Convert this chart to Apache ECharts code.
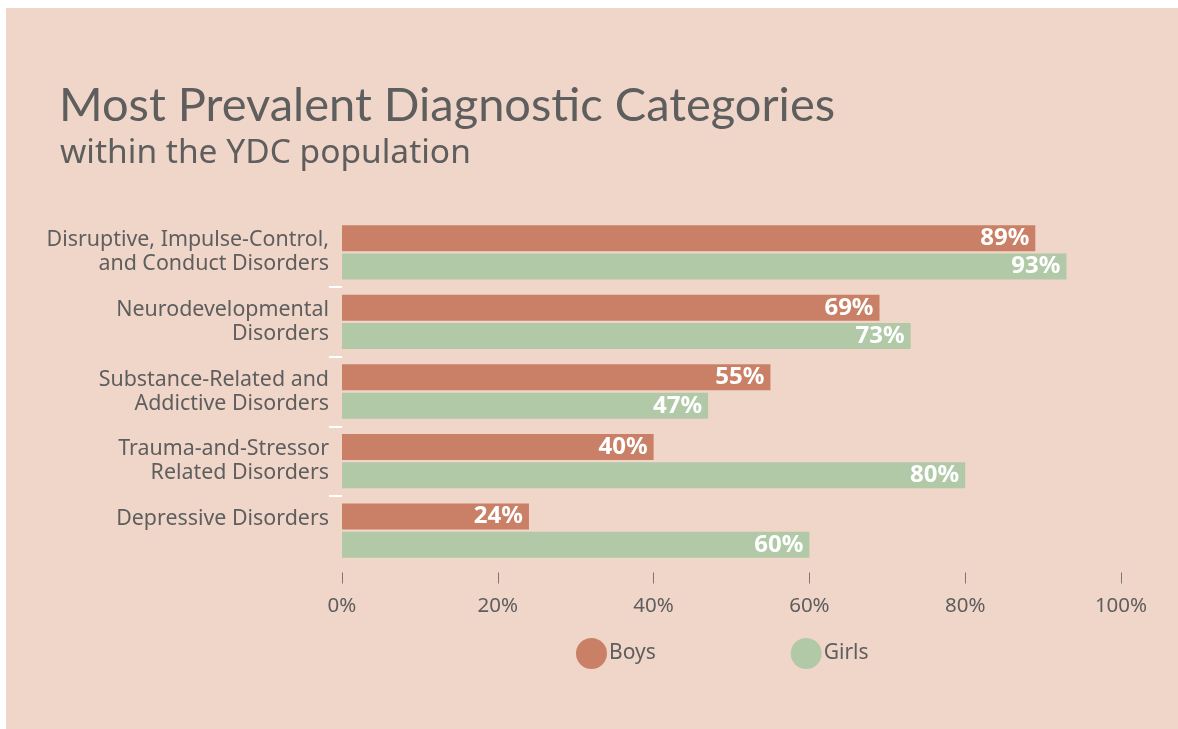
<!DOCTYPE html>
<html>
<head>
<meta charset="utf-8">
<script src="https://cdn.jsdelivr.net/npm/echarts@6/dist/echarts.min.js"></script>
<style>
html,body{margin:0;padding:0;background:#ffffff;}
#chart{position:absolute;left:6px;top:8px;width:1172px;height:721px;background:#F0D5C9;}
</style>
</head>
<body>
<div id="chart"></div>
<script>
const categories = [
  "Disruptive, Impulse-Control,\nand Conduct Disorders",
  "Neurodevelopmental\nDisorders",
  "Substance-Related and\nAddictive Disorders",
  "Trauma-and-Stressor\nRelated Disorders",
  "Depressive Disorders"
];
const boys = [89, 69, 55, 40, 24];
const girls = [93, 73, 47, 80, 60];
const xTicks = [0, 20, 40, 60, 80, 100];
const seriesNames = ["Boys", "Girls"];
const titleText = "Most Prevalent Diagnostic Categories";
const subtitleText = "within the YDC population";

const textColor = "#5E5E5E";
const font = "Noto Sans";

// boundaries between categories (n+1 positions) for the white separator ticks
const boundaries = categories.map((c, i) => String(i)).concat([String(categories.length)]);

const chart = echarts.init(document.getElementById('chart'), null, {renderer: 'canvas'});
const valueLabel = {
  show: true,
  position: 'insideRight',
  distance: 6,
  color: '#ffffff',
  fontFamily: font,
  fontWeight: 'bold',
  fontSize: 24,
  formatter: p => p.value + '%'
};
chart.setOption({
  backgroundColor: 'transparent',
  animation: false,
  title: [
    {text: titleText, left: 48, top: 69,
     textStyle: {fontFamily: 'Lato', fontWeight: 'normal', fontSize: 47, color: textColor}},
    {text: subtitleText, left: 49, top: 123,
     textStyle: {fontFamily: font, fontWeight: 'normal', fontSize: 33.5, color: textColor}}
  ],
  legend: {
    data: seriesNames,
    left: 565,
    top: 625,
    icon: 'circle',
    itemWidth: 31,
    itemHeight: 31,
    itemGap: 135,
    textStyle: {fontFamily: font, fontSize: 21, color: textColor, padding: [0, 0, 0, -3]}
  },
  grid: {left: 336, right: 57, top: 209.5, bottom: 163.5, containLabel: false},
  xAxis: {
    type: 'value',
    min: 0, max: 100, interval: 20,
    offset: 7,
    axisLine: {show: false},
    axisTick: {show: true, length: 11, lineStyle: {color: '#777777', width: 1}},
    splitLine: {show: false},
    axisLabel: {
      fontFamily: font, fontSize: 20.5, color: textColor, margin: 23,
      formatter: v => xTicks.includes(v) ? v + '%' : ''
    }
  },
  yAxis: [
    {
      type: 'category',
      data: categories,
      inverse: true,
      axisLine: {show: false},
      axisTick: {show: false},
      axisLabel: {
        fontFamily: font, fontSize: 21.4, color: textColor, margin: 13,
        lineHeight: 24, align: 'right',
        formatter: v => v.includes('\n') ? v : v + '\n '
      }
    },
    {
      type: 'category',
      data: boundaries,
      inverse: true,
      boundaryGap: false,
      position: 'left',
      axisLine: {show: false},
      axisLabel: {show: false},
      splitLine: {show: false},
      axisTick: {show: true, length: 13,
        interval: (i) => i > 0 && i < categories.length,
        lineStyle: {color: '#ffffff', width: 2}}
    }
  ],
  series: [
    {name: seriesNames[0], type: 'bar', data: boys, barWidth: 26, barGap: '9%',
     itemStyle: {color: '#C98066'}, label: valueLabel},
    {name: seriesNames[1], type: 'bar', data: girls, barWidth: 26, barGap: '9%',
     itemStyle: {color: '#B2C9A8'}, label: valueLabel}
  ]
});
</script>
</body>
</html>
